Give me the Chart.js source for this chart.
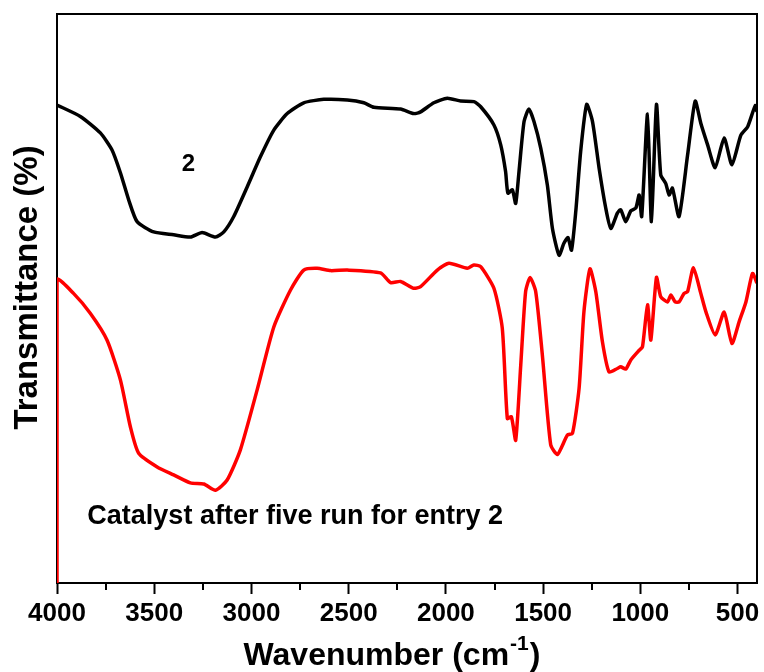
<!DOCTYPE html>
<html>
<head>
<meta charset="utf-8">
<script src="https://cdn.jsdelivr.net/npm/chart.js@4.4.0/dist/chart.umd.min.js"></script>
<style>
  html, body { margin: 0; padding: 0; background: #fff; }
  #wrap { width: 764px; height: 672px; }
</style>
</head>
<body>
<div id="wrap"><canvas id="ftir" width="764" height="672"></canvas></div>
<script>
// FT-IR spectra: compound 2 (black) and the catalyst after five runs (red)
const wnFresh = [4000, 3880, 3777, 3717, 3674, 3631, 3588, 3503, 3400, 3314,
  3254, 3185, 3142, 3091, 3022, 2954, 2885, 2816, 2731, 2628,
  2507, 2422, 2370, 2233, 2165, 2130, 2062, 1993, 1924, 1856,
  1821, 1753, 1718, 1693, 1681, 1658, 1641, 1624, 1598, 1573,
  1547, 1512, 1478, 1452, 1418, 1393, 1372, 1354, 1332, 1307,
  1276, 1246, 1212, 1178, 1152, 1118, 1101, 1075, 1049, 1023,
  1006, 993, 963, 943, 917, 895, 869, 852, 835, 801,
  757, 718, 689, 654, 615, 569, 529, 483, 448, 409, 400];
const tFresh = [84.0, 82.0, 79.1, 76.1, 72.1, 67.3, 63.5, 61.7, 61.2, 60.8,
  61.6, 60.8, 61.7, 64.4, 69.6, 74.9, 79.6, 82.5, 84.4, 85.0,
  84.9, 84.4, 83.6, 83.3, 82.5, 82.8, 84.4, 85.2, 84.7, 84.6,
  83.7, 80.5, 77.0, 72.3, 68.5, 69.1, 66.7, 72.3, 81.1, 83.3,
  81.1, 76.4, 69.9, 62.3, 57.6, 59.7, 60.7, 58.5, 65.3, 75.8,
  84.1, 81.1, 72.9, 65.9, 62.3, 65.0, 65.6, 63.5, 65.4, 65.9,
  68.2, 64.4, 82.4, 63.5, 84.1, 71.7, 70.2, 68.2, 69.4, 64.4,
  75.2, 84.7, 80.8, 77.0, 73.0, 78.2, 73.5, 78.7, 80.2, 83.9, 82.8];

const wnUsed = [4000, 4000, 3915, 3829, 3743, 3674, 3623, 3580, 3485, 3400,
  3314, 3245, 3185, 3125, 3057, 2971, 2885, 2799, 2731, 2662,
  2593, 2507, 2336, 2284, 2233, 2165, 2130, 2044, 1984, 1890,
  1856, 1821, 1753, 1710, 1684, 1663, 1641, 1615, 1590, 1567,
  1538, 1504, 1461, 1426, 1375, 1349, 1315, 1290, 1259, 1229,
  1195, 1161, 1118, 1101, 1075, 1049, 1006, 989, 963, 946,
  917, 895, 860, 843, 821, 801, 775, 757, 727, 689,
  663, 615, 569, 529, 492, 457, 423, 400];
const tUsed = [0, 53.3, 50.9, 47.4, 42.7, 35.7, 27.5, 22.8, 20.4, 19.0,
  17.6, 17.4, 16.3, 18.1, 23.4, 33.9, 45.0, 51.5, 55.0, 55.3,
  54.9, 55.0, 54.5, 52.8, 53.0, 51.8, 52.1, 55.0, 56.2, 55.3,
  55.9, 55.6, 51.8, 44.8, 28.9, 29.2, 25.1, 38.3, 51.2, 53.7,
  51.2, 40.1, 24.3, 22.6, 26.0, 26.3, 34.2, 47.7, 55.2, 51.2,
  42.4, 37.1, 37.7, 38.0, 37.6, 39.2, 40.9, 41.5, 48.9, 42.7,
  53.7, 50.3, 49.4, 50.6, 49.4, 49.4, 50.9, 51.2, 55.4, 50.9,
  47.7, 43.6, 47.6, 42.1, 45.9, 49.4, 54.4, 52.7];

const majorTicks = [500, 1000, 1500, 2000, 2500, 3000, 3500, 4000];
const minorTicks = [750, 1250, 1750, 2250, 2750, 3250, 3750];
const xTitle = ['Wavenumber (cm', '-1', ')'];
const yTitle = 'Transmittance (%)';
// curve captions, anchored in data units
const captions = [
  { text: '2', wn: 3324, t: 73.6, align: 'center', size: 24 },
  { text: 'Catalyst after five run for entry 2', wn: 3844, t: 11.6, align: 'left', size: 27 }
];

const FONT = '"Liberation Sans", Arial, sans-serif';

const toPoints = (xs, ys) => xs.map((x, i) => ({ x: x, y: ys[i] }));

// frame, minor ticks, axis titles and captions
const extras = {
  id: 'extras',
  afterDraw(chart) {
    const { ctx, chartArea: a, scales } = chart;
    const sx = scales.x, sy = scales.y;
    ctx.save();
    ctx.strokeStyle = '#000';
    ctx.lineWidth = 2;
    ctx.beginPath();
    ctx.moveTo(a.left, a.top);
    ctx.lineTo(a.right, a.top);
    ctx.lineTo(a.right, a.bottom);
    ctx.stroke();

    ctx.beginPath();
    minorTicks.forEach(v => {
      const px = Math.round(sx.getPixelForValue(v));
      ctx.moveTo(px, a.bottom);
      ctx.lineTo(px, a.bottom + 7);
    });
    ctx.stroke();

    ctx.fillStyle = '#000';
    ctx.textBaseline = 'middle';
    captions.forEach(c => {
      ctx.font = 'bold ' + c.size + 'px ' + FONT;
      ctx.textAlign = c.align;
      ctx.fillText(c.text, sx.getPixelForValue(c.wn), sy.getPixelForValue(c.t));
    });

    // x title with superscript
    ctx.textBaseline = 'alphabetic';
    ctx.textAlign = 'left';
    const big = 'bold 32px ' + FONT, small = 'bold 21px ' + FONT;
    ctx.font = big;
    const w0 = ctx.measureText(xTitle[0]).width;
    const w2 = ctx.measureText(xTitle[2]).width;
    ctx.font = small;
    const w1 = ctx.measureText(xTitle[1]).width;
    const x0 = (a.left + a.right) / 2 - 16 - (w0 + w1 + w2) / 2;
    ctx.font = big;
    ctx.fillText(xTitle[0], x0, 665);
    ctx.font = small;
    ctx.fillText(xTitle[1], x0 + w0 + 1, 650);
    ctx.font = big;
    ctx.fillText(xTitle[2], x0 + w0 + w1 + 2, 665);

    // y title
    ctx.translate(28, (a.top + a.bottom) / 2 - 11);
    ctx.rotate(-Math.PI / 2);
    ctx.textAlign = 'center';
    ctx.textBaseline = 'middle';
    ctx.font = 'bold 33px ' + FONT;
    ctx.fillText(yTitle, 0, 0);
    ctx.restore();
  }
};

new Chart(document.getElementById('ftir'), {
  type: 'line',
  data: {
    datasets: [
      {
        label: '2',
        data: toPoints(wnFresh, tFresh),
        borderColor: '#000',
        borderWidth: 3.5,
        pointRadius: 0,
        tension: 0.2
      },
      {
        label: 'Catalyst after five run for entry 2',
        data: toPoints(wnUsed, tUsed),
        borderColor: '#ff0000',
        borderWidth: 3.5,
        pointRadius: 0,
        tension: 0.2
      }
    ]
  },
  options: {
    responsive: false,
    animation: false,
    layout: { padding: { top: 14, right: 7, left: 0, bottom: 0 } },
    plugins: { legend: { display: false }, tooltip: { enabled: false } },
    scales: {
      x: {
        type: 'linear',
        reverse: true,
        min: 400,
        max: 4000,
        afterBuildTicks: s => { s.ticks = majorTicks.map(v => ({ value: v })); },
        afterFit: s => { s.height = 89; },
        border: { color: '#000', width: 2 },
        grid: { drawOnChartArea: false, drawTicks: true, tickLength: 11, tickWidth: 2, color: '#000' },
        ticks: {
          padding: 4,
          autoSkip: false,
          maxRotation: 0,
          color: '#000',
          font: { family: FONT, size: 26, weight: 'bold' },
          callback: v => String(v)
        }
      },
      y: {
        min: 0,
        max: 100,
        afterFit: s => { s.width = 57; },
        border: { color: '#000', width: 2 },
        grid: { drawOnChartArea: false, drawTicks: false },
        ticks: { display: false }
      }
    }
  },
  plugins: [extras]
});
</script>
</body>
</html>
